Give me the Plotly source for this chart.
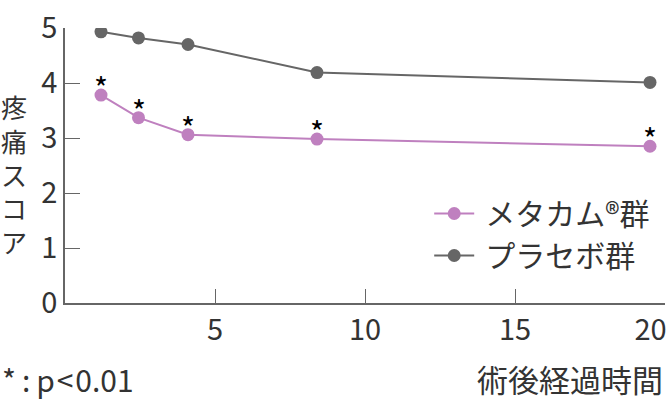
import plotly.graph_objects as go

# data
hours = [1.2, 2.45, 4.1, 8.4, 19.5]
metacam = [3.78, 3.37, 3.06, 2.98, 2.85]
placebo = [4.93, 4.82, 4.70, 4.19, 4.01]
signif = ["*", "*", "*", "*", "*"]

x_ticks = [5, 10, 15, 20]
x_ticktext = ["5", "10", "15", "20\u2003"]
y_ticks = [0, 1, 2, 3, 4, 5]

purple = "#bf80bf"
grey = "#666666"
font = "Noto Sans CJK JP"

fig = go.Figure()

fig.add_trace(go.Scatter(x=hours, y=metacam, name="\u2009メタカム®群", mode="lines+markers",
                         line=dict(color=purple, width=2), marker=dict(color=purple, size=13)))
fig.add_trace(go.Scatter(x=hours, y=placebo, name="\u2009プラセボ群", mode="lines+markers",
                         line=dict(color=grey, width=2), marker=dict(color=grey, size=13)))

# significance stars above the metacam points
for xv, yv, s in zip(hours, metacam, signif):
    fig.add_annotation(x=xv, y=yv, text=s, showarrow=False, yshift=8,
                       font=dict(family=font, size=30, color="black"))

# vertical y-axis title
fig.add_annotation(x=-0.085, y=0.47, xref="paper", yref="paper", text="<br>".join("疼痛スコア"),
                   showarrow=False, xanchor="center", yanchor="middle",
                   font=dict(family=font, size=26, color="#333333"))

fig.add_annotation(x=1.0, y=-0.275, xref="paper", yref="paper", text="術後経過時間", showarrow=False,
                   xanchor="right", yanchor="middle", font=dict(family=font, size=31, color="#333333"))
fig.add_annotation(x=-0.108, y=-0.275, xref="paper", yref="paper",
                   text="*\u2009:\u2009p\u200a<\u200a0.01",
                   showarrow=False, xanchor="left", yanchor="middle",
                   font=dict(family=font, size=30, color="#333333"))

fig.update_xaxes(range=[0, 20], tickvals=x_ticks, ticktext=x_ticktext, ticks="inside", ticklen=14,
                 tickcolor=grey, showline=True, linecolor=grey, linewidth=1.5, showgrid=False,
                 zeroline=False, ticklabeloverflow="allow",
                 tickfont=dict(family=font, size=29, color="#333333"))
fig.update_yaxes(range=[0, 5], tickvals=y_ticks, ticks="inside", ticklen=15,
                 tickcolor=grey, showline=True, linecolor=grey, linewidth=1.5, showgrid=False,
                 zeroline=False, tickfont=dict(family=font, size=29, color="#333333"))

fig.update_layout(width=670, height=400, margin=dict(l=65, r=5, t=28, b=97, autoexpand=False),
                  plot_bgcolor="white", paper_bgcolor="white",
                  legend=dict(x=0.607, y=0.42, xanchor="left", yanchor="top", itemwidth=40,
                              font=dict(family=font, size=30, color="#333333"),
                              bgcolor="rgba(0,0,0,0)"))

# page has a default body margin; drop it so the figure sits at the corner
fig.write_html("out.html", config={"displayModeBar": False},
               post_script="document.body.style.margin='0';")
